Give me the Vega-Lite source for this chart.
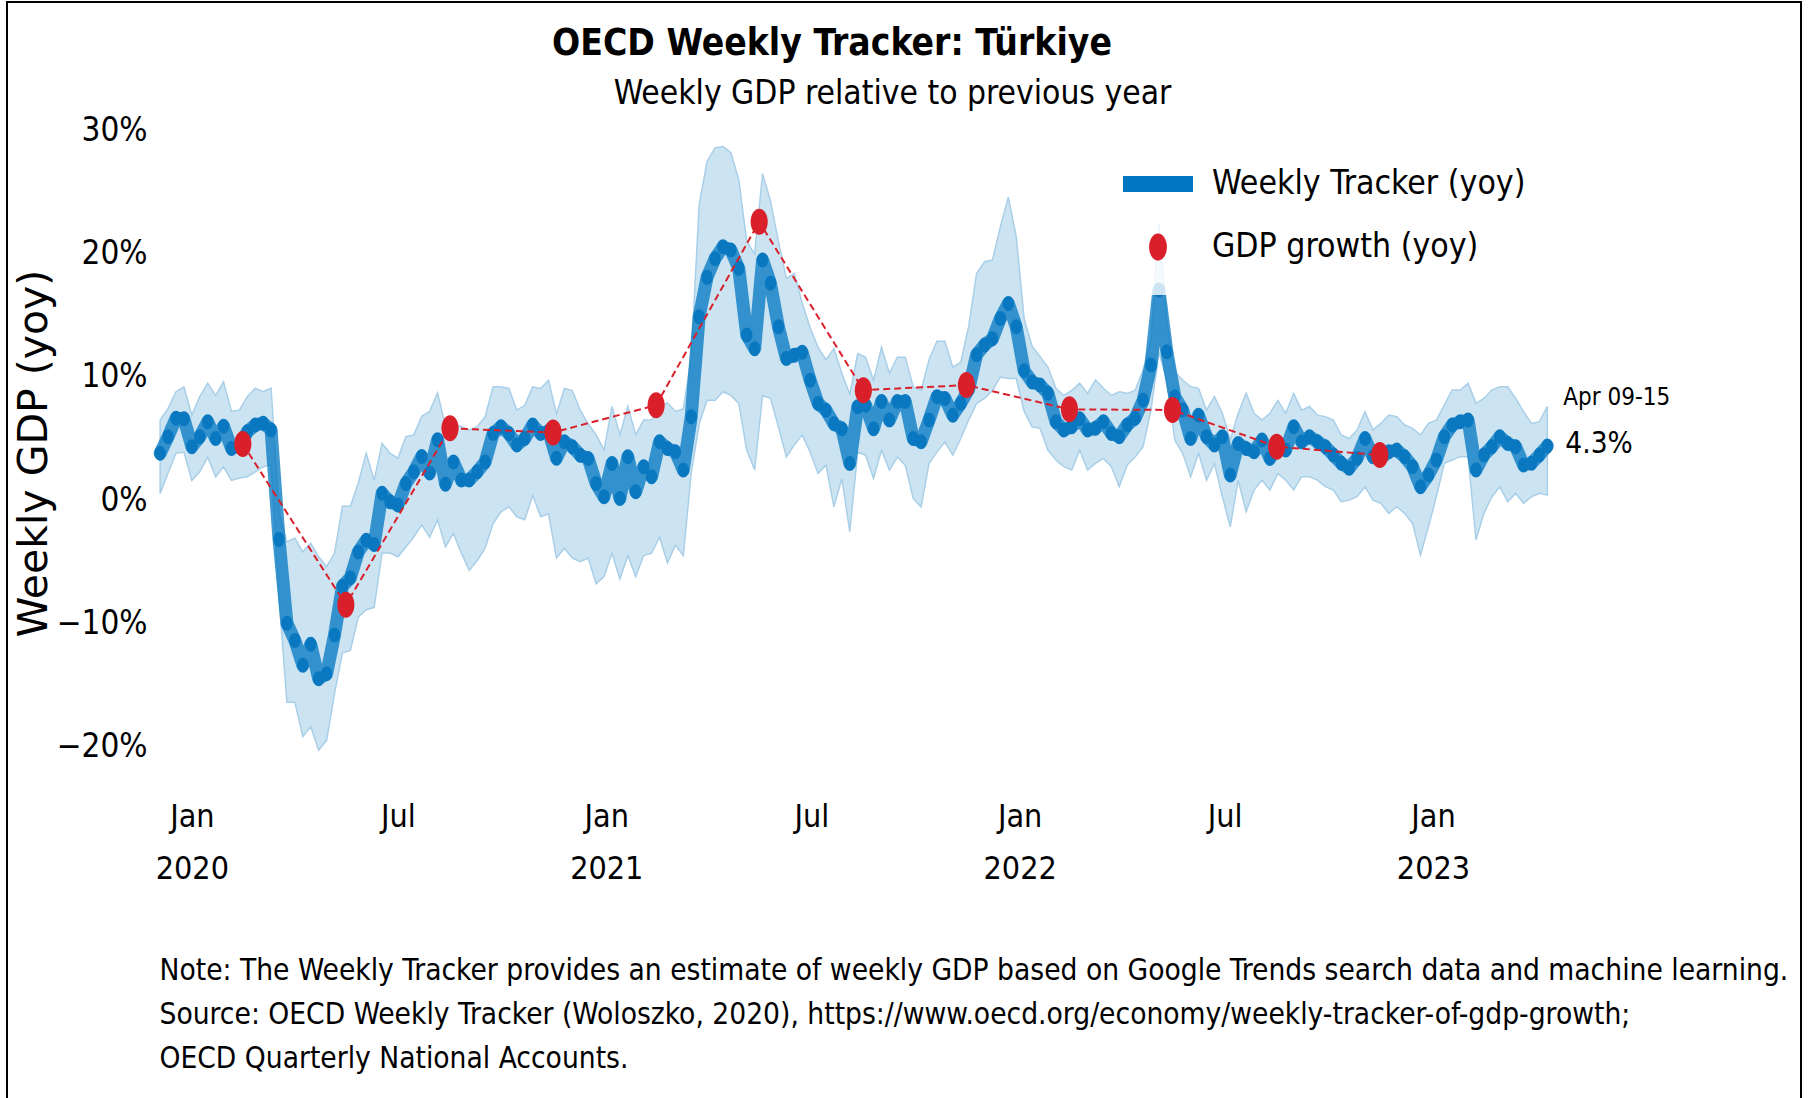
{
  "$schema": "https://vega.github.io/schema/vega-lite/v6.json",
  "width": 1794,
  "height": 1100,
  "autosize": {"type": "none"},
  "padding": {"left": 7, "top": 2, "right": 11, "bottom": -4},
  "background": "white",
  "config": {
    "view": {"stroke": "black", "strokeWidth": 2},
    "font": "DejaVu Sans Condensed, DejaVu Sans",
    "axis": {"grid": false, "domain": false, "ticks": false, "tickSize": 0, "labelPadding": 0, "labelColor": "black", "titleColor": "black"}
  },
  "title": {
    "text": "OECD Weekly Tracker: Türkiye",
    "font": "DejaVu Sans Condensed, DejaVu Sans",
    "fontSize": 36.9,
    "fontWeight": "bold",
    "color": "black",
    "anchor": "middle",
    "frame": "group",
    "baseline": "top",
    "dx": -72,
    "offset": -61
  },
  "datasets": {
    "weekly": [
      {"d":"2019-12-04","v":3.8,"lo":0.55,"hi":6.5},
      {"d":"2019-12-11","v":5.15,"lo":2.2,"hi":7.45},
      {"d":"2019-12-18","v":6.64,"lo":3.8,"hi":8.8},
      {"d":"2019-12-25","v":6.6,"lo":3.9,"hi":9.2},
      {"d":"2020-01-01","v":4.34,"lo":1.6,"hi":6.9},
      {"d":"2020-01-08","v":5.15,"lo":2.3,"hi":8.4},
      {"d":"2020-01-15","v":6.37,"lo":3.5,"hi":9.5},
      {"d":"2020-01-22","v":5.0,"lo":1.9,"hi":8.5},
      {"d":"2020-01-29","v":6.0,"lo":2.7,"hi":9.6},
      {"d":"2020-02-05","v":4.2,"lo":1.6,"hi":7.2},
      {"d":"2020-02-12","v":4.4,"lo":1.8,"hi":7.3},
      {"d":"2020-02-19","v":5.55,"lo":1.9,"hi":8.4},
      {"d":"2020-02-26","v":6.1,"lo":2.3,"hi":9.1},
      {"d":"2020-03-04","v":6.25,"lo":2.7,"hi":8.8},
      {"d":"2020-03-11","v":5.7,"lo":2.9,"hi":9.1},
      {"d":"2020-03-18","v":-3.2,"lo":-8.0,"hi":-1.0},
      {"d":"2020-03-25","v":-10.0,"lo":-16.4,"hi":-3.4},
      {"d":"2020-04-01","v":-11.4,"lo":-16.4,"hi":-3.1},
      {"d":"2020-04-08","v":-13.4,"lo":-19.2,"hi":-4.2},
      {"d":"2020-04-15","v":-11.7,"lo":-18.4,"hi":-3.5},
      {"d":"2020-04-22","v":-14.5,"lo":-20.3,"hi":-4.6},
      {"d":"2020-04-29","v":-14.1,"lo":-19.5,"hi":-5.4},
      {"d":"2020-05-06","v":-10.95,"lo":-15.7,"hi":-4.3},
      {"d":"2020-05-13","v":-7.0,"lo":-12.4,"hi":-0.5},
      {"d":"2020-05-20","v":-6.3,"lo":-12.2,"hi":-0.5},
      {"d":"2020-05-27","v":-4.2,"lo":-9.5,"hi":1.4},
      {"d":"2020-06-03","v":-3.25,"lo":-8.9,"hi":3.8},
      {"d":"2020-06-10","v":-3.6,"lo":-8.7,"hi":1.6},
      {"d":"2020-06-17","v":0.55,"lo":-4.3,"hi":4.6},
      {"d":"2020-06-24","v":-0.13,"lo":-4.3,"hi":3.8},
      {"d":"2020-07-01","v":-0.4,"lo":-4.6,"hi":3.4},
      {"d":"2020-07-08","v":1.36,"lo":-3.8,"hi":5.15},
      {"d":"2020-07-15","v":2.3,"lo":-3.0,"hi":5.3},
      {"d":"2020-07-22","v":3.55,"lo":-2.0,"hi":6.8},
      {"d":"2020-07-29","v":2.2,"lo":-3.0,"hi":7.2},
      {"d":"2020-08-05","v":4.9,"lo":-1.6,"hi":8.7},
      {"d":"2020-08-12","v":1.3,"lo":-3.8,"hi":6.0},
      {"d":"2020-08-19","v":3.1,"lo":-2.7,"hi":6.2},
      {"d":"2020-08-26","v":1.63,"lo":-4.3,"hi":5.96},
      {"d":"2020-09-02","v":1.63,"lo":-5.7,"hi":5.68},
      {"d":"2020-09-09","v":2.3,"lo":-4.9,"hi":5.96},
      {"d":"2020-09-16","v":3.1,"lo":-3.9,"hi":6.77},
      {"d":"2020-09-23","v":5.4,"lo":-1.9,"hi":9.2},
      {"d":"2020-09-30","v":5.96,"lo":-0.95,"hi":9.2},
      {"d":"2020-10-07","v":5.4,"lo":-0.54,"hi":9.07},
      {"d":"2020-10-14","v":4.47,"lo":-1.35,"hi":7.3},
      {"d":"2020-10-21","v":5.0,"lo":-1.6,"hi":7.7},
      {"d":"2020-10-28","v":6.09,"lo":0.4,"hi":9.2},
      {"d":"2020-11-04","v":5.4,"lo":-1.35,"hi":9.07},
      {"d":"2020-11-11","v":5.6,"lo":-1.1,"hi":9.74},
      {"d":"2020-11-18","v":3.4,"lo":-4.7,"hi":7.0},
      {"d":"2020-11-25","v":4.74,"lo":-3.9,"hi":9.07},
      {"d":"2020-12-02","v":4.33,"lo":-4.7,"hi":8.9},
      {"d":"2020-12-09","v":3.65,"lo":-5.0,"hi":7.3},
      {"d":"2020-12-16","v":3.38,"lo":-4.7,"hi":6.2},
      {"d":"2020-12-23","v":1.35,"lo":-6.8,"hi":5.3},
      {"d":"2020-12-30","v":0.27,"lo":-6.2,"hi":4.06},
      {"d":"2021-01-06","v":2.98,"lo":-4.3,"hi":7.6},
      {"d":"2021-01-13","v":0.14,"lo":-6.4,"hi":5.3},
      {"d":"2021-01-20","v":3.52,"lo":-4.5,"hi":7.6},
      {"d":"2021-01-27","v":0.68,"lo":-6.2,"hi":5.3},
      {"d":"2021-02-03","v":2.71,"lo":-4.5,"hi":6.5},
      {"d":"2021-02-10","v":1.9,"lo":-4.3,"hi":6.5},
      {"d":"2021-02-17","v":4.74,"lo":-3.0,"hi":7.6},
      {"d":"2021-02-24","v":4.2,"lo":-5.1,"hi":7.9},
      {"d":"2021-03-03","v":3.93,"lo":-3.65,"hi":7.2},
      {"d":"2021-03-10","v":2.44,"lo":-4.5,"hi":7.4},
      {"d":"2021-03-17","v":6.77,"lo":2.2,"hi":11.6},
      {"d":"2021-03-24","v":14.89,"lo":6.2,"hi":24.0},
      {"d":"2021-03-31","v":18.1,"lo":8.1,"hi":27.5},
      {"d":"2021-04-07","v":19.6,"lo":8.1,"hi":28.6},
      {"d":"2021-04-14","v":20.57,"lo":8.8,"hi":28.7},
      {"d":"2021-04-21","v":20.3,"lo":8.5,"hi":28.2},
      {"d":"2021-04-28","v":18.8,"lo":7.85,"hi":26.0},
      {"d":"2021-05-05","v":13.4,"lo":4.06,"hi":21.0},
      {"d":"2021-05-12","v":12.3,"lo":2.44,"hi":20.0},
      {"d":"2021-05-19","v":19.5,"lo":8.5,"hi":26.5},
      {"d":"2021-05-26","v":17.6,"lo":8.26,"hi":24.3},
      {"d":"2021-06-02","v":14.07,"lo":5.96,"hi":21.0},
      {"d":"2021-06-09","v":11.5,"lo":3.5,"hi":18.0},
      {"d":"2021-06-16","v":11.77,"lo":4.47,"hi":18.4},
      {"d":"2021-06-23","v":12.0,"lo":5.3,"hi":16.0},
      {"d":"2021-06-30","v":9.74,"lo":3.9,"hi":14.0},
      {"d":"2021-07-07","v":7.85,"lo":2.17,"hi":12.4},
      {"d":"2021-07-14","v":7.3,"lo":2.84,"hi":11.4},
      {"d":"2021-07-21","v":6.2,"lo":-0.54,"hi":12.3},
      {"d":"2021-07-28","v":5.8,"lo":1.76,"hi":10.3},
      {"d":"2021-08-04","v":2.98,"lo":-2.57,"hi":8.6},
      {"d":"2021-08-11","v":7.58,"lo":3.9,"hi":11.9},
      {"d":"2021-08-18","v":7.7,"lo":3.65,"hi":11.6},
      {"d":"2021-08-25","v":5.8,"lo":1.76,"hi":9.7},
      {"d":"2021-09-01","v":8.0,"lo":4.06,"hi":12.4},
      {"d":"2021-09-08","v":6.5,"lo":2.44,"hi":10.3},
      {"d":"2021-09-15","v":8.0,"lo":3.5,"hi":11.6},
      {"d":"2021-09-22","v":8.0,"lo":2.84,"hi":11.6},
      {"d":"2021-09-29","v":5.0,"lo":0.14,"hi":9.2},
      {"d":"2021-10-06","v":4.74,"lo":-0.54,"hi":8.9},
      {"d":"2021-10-13","v":6.5,"lo":2.98,"hi":11.4},
      {"d":"2021-10-20","v":8.4,"lo":3.9,"hi":12.9},
      {"d":"2021-10-27","v":8.26,"lo":4.74,"hi":12.9},
      {"d":"2021-11-03","v":6.9,"lo":3.65,"hi":10.8},
      {"d":"2021-11-10","v":7.85,"lo":5.0,"hi":11.2},
      {"d":"2021-11-17","v":9.0,"lo":6.5,"hi":14.1},
      {"d":"2021-11-24","v":11.8,"lo":7.85,"hi":18.4},
      {"d":"2021-12-01","v":12.6,"lo":8.26,"hi":19.35},
      {"d":"2021-12-08","v":13.1,"lo":8.9,"hi":19.5},
      {"d":"2021-12-15","v":14.75,"lo":10.0,"hi":22.2},
      {"d":"2021-12-22","v":15.97,"lo":9.88,"hi":24.6},
      {"d":"2021-12-29","v":14.07,"lo":9.88,"hi":21.4},
      {"d":"2022-01-05","v":10.5,"lo":7.2,"hi":14.7},
      {"d":"2022-01-12","v":9.6,"lo":5.96,"hi":12.5},
      {"d":"2022-01-19","v":9.35,"lo":5.83,"hi":11.65},
      {"d":"2022-01-26","v":8.67,"lo":4.07,"hi":10.8},
      {"d":"2022-02-02","v":6.37,"lo":3.26,"hi":9.08},
      {"d":"2022-02-09","v":5.69,"lo":2.72,"hi":8.5},
      {"d":"2022-02-16","v":5.96,"lo":2.44,"hi":8.9},
      {"d":"2022-02-23","v":6.6,"lo":4.07,"hi":9.5},
      {"d":"2022-03-02","v":5.69,"lo":2.44,"hi":8.67},
      {"d":"2022-03-09","v":5.83,"lo":2.98,"hi":9.75},
      {"d":"2022-03-16","v":6.37,"lo":3.39,"hi":9.08},
      {"d":"2022-03-23","v":5.42,"lo":2.72,"hi":8.5},
      {"d":"2022-03-30","v":5.15,"lo":1.1,"hi":8.8},
      {"d":"2022-04-06","v":6.1,"lo":2.85,"hi":8.67},
      {"d":"2022-04-13","v":6.64,"lo":3.5,"hi":8.9},
      {"d":"2022-04-20","v":8.1,"lo":4.34,"hi":10.56},
      {"d":"2022-04-27","v":10.97,"lo":7.3,"hi":13.0},
      {"d":"2022-05-04","v":17.06,"lo":12.0,"hi":22.5},
      {"d":"2022-05-11","v":12.05,"lo":9.75,"hi":14.5},
      {"d":"2022-05-18","v":8.4,"lo":4.88,"hi":10.4},
      {"d":"2022-05-25","v":7.32,"lo":3.8,"hi":9.75},
      {"d":"2022-06-01","v":5.0,"lo":1.9,"hi":9.2},
      {"d":"2022-06-08","v":6.9,"lo":3.8,"hi":9.08},
      {"d":"2022-06-15","v":5.15,"lo":1.63,"hi":7.3},
      {"d":"2022-06-22","v":4.47,"lo":2.98,"hi":8.4},
      {"d":"2022-06-29","v":5.15,"lo":0.28,"hi":7.05},
      {"d":"2022-07-06","v":2.04,"lo":-2.16,"hi":4.88},
      {"d":"2022-07-13","v":4.6,"lo":1.63,"hi":7.05},
      {"d":"2022-07-20","v":4.2,"lo":-0.94,"hi":8.67},
      {"d":"2022-07-27","v":3.93,"lo":0.82,"hi":7.05},
      {"d":"2022-08-03","v":4.88,"lo":1.63,"hi":6.5},
      {"d":"2022-08-10","v":3.39,"lo":0.82,"hi":7.05},
      {"d":"2022-08-17","v":4.34,"lo":2.17,"hi":8.1},
      {"d":"2022-08-24","v":4.07,"lo":1.63,"hi":7.05},
      {"d":"2022-08-31","v":5.96,"lo":0.82,"hi":8.67},
      {"d":"2022-09-07","v":4.74,"lo":1.9,"hi":7.3},
      {"d":"2022-09-14","v":5.15,"lo":1.9,"hi":7.6},
      {"d":"2022-09-21","v":4.75,"lo":1.63,"hi":6.9},
      {"d":"2022-09-28","v":4.34,"lo":1.09,"hi":6.78},
      {"d":"2022-10-05","v":3.66,"lo":0.82,"hi":6.5},
      {"d":"2022-10-12","v":3.0,"lo":-0.13,"hi":5.29},
      {"d":"2022-10-19","v":2.58,"lo":0.0,"hi":5.0},
      {"d":"2022-10-26","v":3.4,"lo":0.28,"hi":5.7},
      {"d":"2022-11-02","v":5.0,"lo":1.09,"hi":7.18},
      {"d":"2022-11-09","v":3.53,"lo":0.0,"hi":5.7},
      {"d":"2022-11-16","v":3.4,"lo":-0.26,"hi":6.23},
      {"d":"2022-11-23","v":3.93,"lo":-1.07,"hi":6.9},
      {"d":"2022-11-30","v":4.07,"lo":-0.53,"hi":6.78},
      {"d":"2022-12-07","v":3.53,"lo":-1.07,"hi":6.1},
      {"d":"2022-12-14","v":2.72,"lo":-1.89,"hi":5.83},
      {"d":"2022-12-21","v":1.09,"lo":-4.46,"hi":5.29},
      {"d":"2022-12-28","v":2.04,"lo":-2.16,"hi":6.23},
      {"d":"2023-01-04","v":3.26,"lo":0.28,"hi":6.5},
      {"d":"2023-01-11","v":5.15,"lo":2.99,"hi":7.72},
      {"d":"2023-01-18","v":6.1,"lo":3.26,"hi":8.94},
      {"d":"2023-01-25","v":6.37,"lo":3.53,"hi":8.94},
      {"d":"2023-02-01","v":6.5,"lo":3.53,"hi":9.48},
      {"d":"2023-02-08","v":2.44,"lo":-3.24,"hi":7.86},
      {"d":"2023-02-15","v":3.66,"lo":-1.07,"hi":8.26},
      {"d":"2023-02-22","v":4.34,"lo":0.28,"hi":8.94},
      {"d":"2023-03-01","v":5.15,"lo":1.09,"hi":9.2},
      {"d":"2023-03-08","v":4.6,"lo":-0.13,"hi":9.2},
      {"d":"2023-03-15","v":4.34,"lo":0.55,"hi":8.26},
      {"d":"2023-03-22","v":2.85,"lo":-0.26,"hi":7.18},
      {"d":"2023-03-29","v":3.0,"lo":0.28,"hi":6.23},
      {"d":"2023-04-05","v":3.66,"lo":0.55,"hi":6.37},
      {"d":"2023-04-12","v":4.4,"lo":0.42,"hi":7.6}
    ],
    "gdp": [
      {"d":"2020-02-15","g":4.56},
      {"d":"2020-05-16","g":-8.5},
      {"d":"2020-08-16","g":5.83},
      {"d":"2020-11-15","g":5.49},
      {"d":"2021-02-14","g":7.71},
      {"d":"2021-05-16","g":22.6},
      {"d":"2021-08-16","g":8.93},
      {"d":"2021-11-15","g":9.34},
      {"d":"2022-02-14","g":7.37},
      {"d":"2022-05-16","g":7.32},
      {"d":"2022-08-16","g":4.34},
      {"d":"2022-11-15","g":3.66}
    ],
    "last": [
      {"d":"2023-04-12","v":4.4,"week":"Apr 09-15","label":"4.3%"}
    ]
  },
  "resolve": {"axis": {"x": "independent"}},
  "layer": [
    {
      "data": {"name": "weekly"},
      "mark": {"type": "area", "fill": "#cce4f2", "stroke": "#a9cfe8", "strokeWidth": 1.5, "opacity": 1},
      "encoding": {
        "x": {
          "field": "d", "type": "temporal",
          "scale": {"domain": [1563734592000, 1700611200000], "nice": false},
          "axis": {
            "orient": "bottom", "offset": -301,
            "values": [
              {"year": 2020, "month": 1, "date": 1, "utc": true},
              {"year": 2020, "month": 7, "date": 1, "utc": true},
              {"year": 2021, "month": 1, "date": 1, "utc": true},
              {"year": 2021, "month": 7, "date": 1, "utc": true},
              {"year": 2022, "month": 1, "date": 1, "utc": true},
              {"year": 2022, "month": 7, "date": 1, "utc": true},
              {"year": 2023, "month": 1, "date": 1, "utc": true}
            ],
            "labelExpr": "utcmonth(datum.value) === 0 ? ['Jan', utcFormat(datum.value, '%Y')] : 'Jul'",
            "labelFont": "DejaVu Sans Condensed, DejaVu Sans", "labelFontSize": 32, "labelLineHeight": 52,
            "labelBaseline": "top", "labelAlign": "center",
            "labelFlush": false, "labelOverlap": false, "labelBound": false,
            "title": [
              "Note: The Weekly Tracker provides an estimate of weekly GDP based on Google Trends search data and machine learning.",
              "Source: OECD Weekly Tracker (Woloszko, 2020), https://www.oecd.org/economy/weekly-tracker-of-gdp-growth;",
              "OECD Quarterly National Accounts."
            ],
            "titleX": 152, "titleY": 155, "titleAlign": "left", "titleAnchor": "start",
            "titleBaseline": "top", "titleLineHeight": 44,
            "titleFont": "DejaVu Sans Condensed, DejaVu Sans", "titleFontSize": 29.6, "titleFontWeight": "normal",
            "titleLimit": 3000
          }
        },
        "y": {
          "field": "lo", "type": "quantitative",
          "scale": {"domain": [-48.86, 40.44], "nice": false, "zero": false},
          "axis": {
            "orient": "left", "offset": -140,
            "values": [-20, -10, 0, 10, 20, 30],
            "labelExpr": "(datum.value < 0 ? '−' + abs(datum.value) : datum.value) + '%'",
            "labelFont": "DejaVu Sans Condensed, DejaVu Sans", "labelFontSize": 33, "labelAlign": "right", "labelBaseline": "middle",
            "labelFlush": false, "labelOverlap": false,
            "title": "Weekly GDP (yoy)",
            "titleFont": "DejaVu Sans", "titleFontSize": 41, "titleFontWeight": "normal",
            "titleAngle": -90, "titleX": -113, "titleY": 451, "titleAlign": "center", "titleBaseline": "middle",
            "titleLimit": 2000
          }
        },
        "y2": {"field": "hi"}
      }
    },
    {
      "data": {"name": "weekly"},
      "mark": {"type": "line", "strokeWidth": 13, "strokeOpacity": 0.75, "strokeCap": "round", "strokeJoin": "round"},
      "encoding": {
        "x": {
          "field": "d", "type": "temporal",
          "axis": {
            "orient": "top", "labels": false, "ticks": false, "domain": false,
            "title": "Weekly GDP relative to previous year",
            "titleX": 885, "titleY": 101, "titleAlign": "center", "titleBaseline": "alphabetic",
            "titleFont": "DejaVu Sans Condensed, DejaVu Sans", "titleFontSize": 33.3, "titleFontWeight": "normal",
            "titleLimit": 2000
          }
        },
        "y": {"field": "v", "type": "quantitative", "title": "Weekly GDP (yoy)"},
        "color": {
          "datum": "Weekly Tracker (yoy)",
          "scale": {"domain": ["Weekly Tracker (yoy)", "GDP growth (yoy)"], "range": ["#0077c0", "#d9202a"]},
          "legend": {
            "orient": "none", "legendX": 1085, "legendY": 116,
            "title": null,
            "padding": 31, "rowPadding": 11,
            "fillColor": "rgba(255,255,255,0.8)", "strokeColor": null,
            "labelFont": "DejaVu Sans Condensed, DejaVu Sans", "labelFontSize": 33.5, "labelColor": "black",
            "labelLimit": 2000, "labelOffset": 19,
            "symbolSize": 1600, "symbolType": "circle",
            "encode": {
              "symbols": {
                "update": {
                  "shape": {"signal": "datum.value === 'GDP growth (yoy)' ? 'M0,-1C0.364,-1,0.66,-0.552,0.66,0C0.66,0.552,0.364,1,0,1C-0.364,1,-0.66,0.552,-0.66,0C-0.66,-0.552,-0.364,-1,0,-1Z' : 'M-1,-0.23H1V0.23H-1Z'"},
                  "size": {"signal": "datum.value === 'GDP growth (yoy)' ? 729 : 4900"},
                  "fill": {"signal": "datum.value === 'GDP growth (yoy)' ? '#d9202a' : '#0077c0'"},
                  "fillOpacity": {"value": 1},
                  "opacity": {"value": 1},
                  "strokeWidth": {"value": 0}
                }
              }
            }
          }
        }
      }
    },
    {
      "data": {"name": "weekly"},
      "mark": {"type": "point", "filled": true, "opacity": 1, "color": "#0a78c0", "size": 225,
               "shape": "M0,-1C0.42,-1,0.76,-0.552,0.76,0C0.76,0.552,0.42,1,0,1C-0.42,1,-0.76,0.552,-0.76,0C-0.76,-0.552,-0.42,-1,0,-1Z"},
      "encoding": {
        "x": {"field": "d", "type": "temporal", "axis": null},
        "y": {"field": "v", "type": "quantitative", "title": "Weekly GDP (yoy)"}
      }
    },
    {
      "data": {"name": "gdp"},
      "mark": {"type": "line", "color": "#d9202a", "strokeWidth": 2, "strokeDash": [7, 4]},
      "encoding": {
        "x": {"field": "d", "type": "temporal", "axis": null},
        "y": {"field": "g", "type": "quantitative", "title": "Weekly GDP (yoy)"}
      }
    },
    {
      "data": {"name": "gdp"},
      "mark": {"type": "point", "filled": true, "opacity": 1, "size": 676,
               "shape": "M0,-1C0.364,-1,0.66,-0.552,0.66,0C0.66,0.552,0.364,1,0,1C-0.364,1,-0.66,0.552,-0.66,0C-0.66,-0.552,-0.364,-1,0,-1Z"},
      "encoding": {
        "x": {"field": "d", "type": "temporal", "axis": null},
        "y": {"field": "g", "type": "quantitative", "title": "Weekly GDP (yoy)"},
        "color": {"datum": "GDP growth (yoy)"}
      }
    },
    {
      "data": {"name": "last"},
      "mark": {"type": "text", "align": "left", "baseline": "middle", "dx": 16, "dy": -48, "fontSize": 24, "font": "DejaVu Sans Condensed, DejaVu Sans", "color": "black"},
      "encoding": {
        "x": {"field": "d", "type": "temporal", "axis": null},
        "y": {"field": "v", "type": "quantitative", "title": "Weekly GDP (yoy)"},
        "text": {"field": "week"}
      }
    },
    {
      "data": {"name": "last"},
      "mark": {"type": "text", "align": "left", "baseline": "middle", "dx": 18, "dy": -2, "fontSize": 29.5, "font": "DejaVu Sans Condensed, DejaVu Sans", "color": "black"},
      "encoding": {
        "x": {"field": "d", "type": "temporal", "axis": null},
        "y": {"field": "v", "type": "quantitative", "title": "Weekly GDP (yoy)"},
        "text": {"field": "label"}
      }
    }
  ]
}
